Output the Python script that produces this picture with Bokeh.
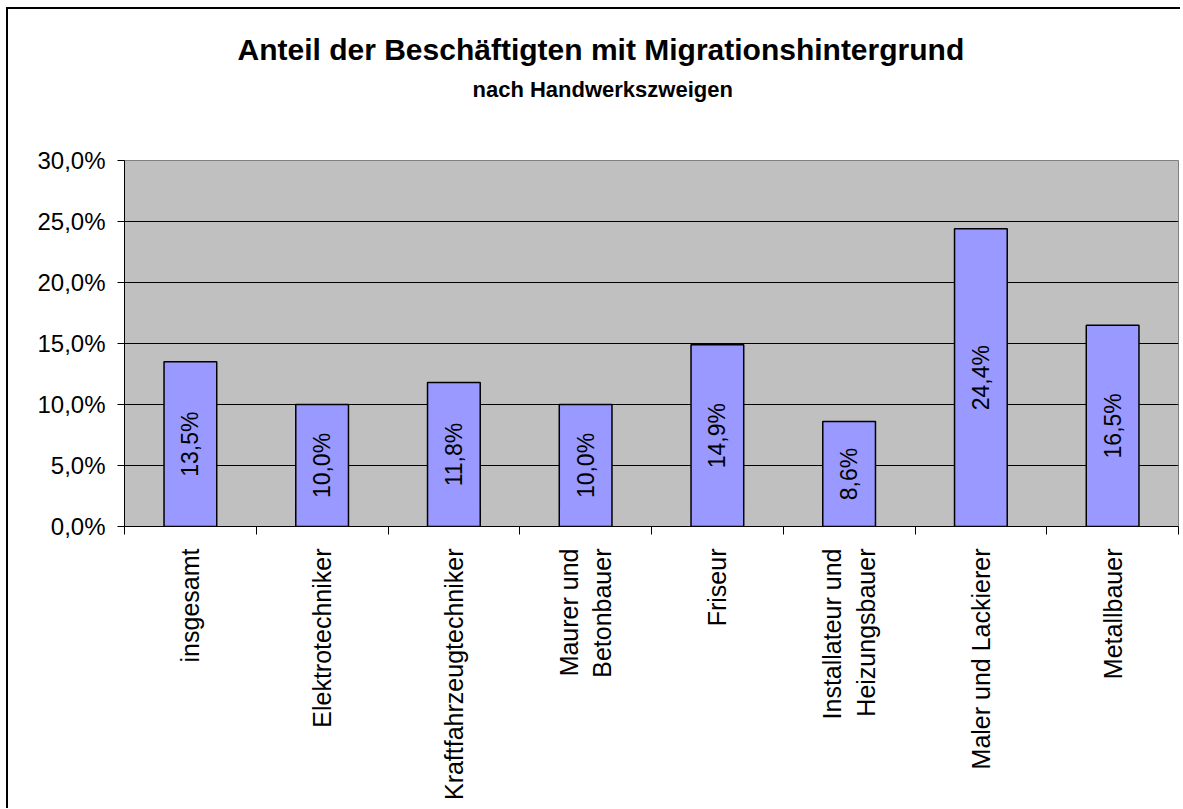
import math
from bokeh.plotting import figure
from bokeh.models import (Range1d, LinearAxis, FixedTicker, Title, ColumnDataSource)
from bokeh.core.properties import value
from bokeh.embed import file_html
from bokeh.resources import INLINE

categories = ["insgesamt", "Elektrotechniker", "Kraftfahrzeugtechniker", "Maurer und\nBetonbauer",
              "Friseur", "Installateur und\nHeizungsbauer", "Maler und Lackierer", "Metallbauer"]
values = [13.5, 10.0, 11.8, 10.0, 14.9, 8.6, 24.4, 16.5]
value_labels = ["13,5%", "10,0%", "11,8%", "10,0%", "14,9%", "8,6%", "24,4%", "16,5%"]
y_ticks = [0, 5, 10, 15, 20, 25, 30]
y_tick_labels = ["0,0%", "5,0%", "10,0%", "15,0%", "20,0%", "25,0%", "30,0%"]
title_text = "Anteil der Beschäftigten mit Migrationshintergrund"
subtitle_text = "nach Handwerkszweigen"

FONT = "Liberation Sans"
n = len(categories)
centers = [i + 0.5 for i in range(n)]
bounds = list(range(n + 1))

p = figure(width=1172, height=799, output_backend="svg", toolbar_location=None,
           x_range=Range1d(0, n), y_range=Range1d(0, 30), x_axis_location=None,
           min_border_left=116, min_border_right=4, min_border_top=151, min_border_bottom=284,
           styles={"border-left": "2px solid black", "border-top": "2px solid black",
                   "margin-left": "6px", "margin-top": "7px", "box-sizing": "content-box"})
p.title = None

p.background_fill_color = "#C0C0C0"
p.border_fill_color = "white"
p.outline_line_color = "#808080"
p.outline_line_width = 1

p.xgrid.grid_line_color = None
p.ygrid.grid_line_color = "black"
p.ygrid.grid_line_width = 1
p.ygrid.ticker = FixedTicker(ticks=y_ticks)

yax = p.yaxis[0]
yax.ticker = FixedTicker(ticks=y_ticks)
yax.major_label_overrides = {t: l for t, l in zip(y_ticks, y_tick_labels)}
yax.major_label_text_font = FONT
yax.major_label_text_font_size = "24px"
yax.major_label_text_color = "black"
yax.major_tick_out = 7
yax.major_tick_in = 0
yax.minor_tick_line_color = None
yax.axis_line_color = "black"
yax.major_tick_line_color = "black"
yax.major_label_standoff = 12

cat_axis = LinearAxis(ticker=FixedTicker(ticks=centers, minor_ticks=bounds),
                      major_label_overrides={c: l for c, l in zip(centers, categories)},
                      axis_line_color="black", major_tick_line_color=None,
                      major_tick_out=0, major_tick_in=0,
                      minor_tick_line_color="black", minor_tick_out=8, minor_tick_in=0,
                      major_label_orientation=math.pi / 2,
                      major_label_text_font=FONT, major_label_text_font_size="25px",
                      major_label_text_color="black", major_label_standoff=14)
p.add_layout(cat_axis, "below")

src = ColumnDataSource(dict(x=centers, top=values, mid=[v / 2 for v in values], lab=value_labels))
p.vbar(x="x", top="top", width=0.4, source=src, fill_color="#9999FF", line_color="black", line_width=1.5)
p.text(x="x", y="mid", text="lab", source=src, angle=math.pi / 2, text_align="center",
       text_baseline="middle", text_font=value(FONT), text_font_size="23px", text_color="black")

# blank spacer between the frame and the subtitle
p.add_layout(Title(text=" ", text_font=FONT, text_font_size="22px", align="left",
                   vertical_align="top", standoff=26), "above")
p.add_layout(Title(text=subtitle_text, text_font=FONT, text_font_size="22px", text_font_style="bold",
                   text_color="black", align="left", vertical_align="top", offset=348,
                   standoff=8), "above")
p.add_layout(Title(text=title_text, text_font=FONT, text_font_size="30px", text_font_style="bold",
                   text_color="black", align="left", vertical_align="top", offset=113,
                   standoff=9), "above")

open("out.html", "w").write(file_html(p, INLINE))
